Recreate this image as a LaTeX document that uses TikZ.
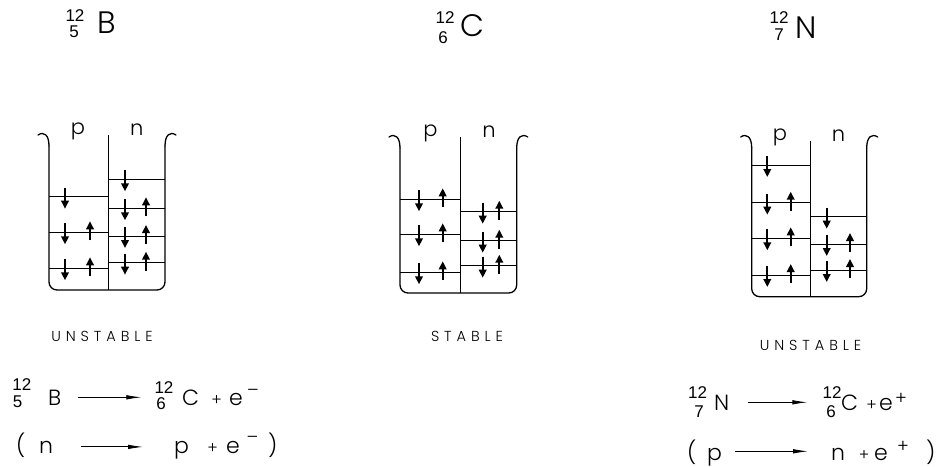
\documentclass[tikz,border=0pt]{standalone}
\usepackage{fontspec}
\IfFontExistsTF{Poppins Light}{%
  \setmainfont{Poppins Light}%
  \newfontfamily\trackedfont{Poppins Light}[LetterSpace=34]}{%
  \setmainfont{Poppins}%
  \newfontfamily\trackedfont{Poppins}[LetterSpace=34]}
\newfontfamily\numfont{Liberation Sans}
\usetikzlibrary{arrows.meta}

% beaker outline: left wall x, right wall x, rim y, bottom y, divider x, divider top
\newcommand\drawbeaker[6]{%
  \draw[wall,rounded corners=8pt] (#1,{#3+13}) -- (#1,#4) -- (#2,#4) -- (#2,{#3+13});
  \draw[wall] ({#1-11},{#3+2}) .. controls ({#1-5},{#3-2}) and (#1,{#3+2}) .. (#1,{#3+13});
  \draw[wall] (#2,{#3+13}) .. controls (#2,{#3+2}) and ({#2+5},{#3-2}) .. ({#2+11},{#3+2});
  \draw[divider] (#5,#6) -- (#5,#4);}
% spin arrows crossing a level line at height #2
\newcommand\spindn[2]{\draw[spin] (#1,{#2-9}) -- (#1,{#2+12});}
\newcommand\spinup[2]{\draw[spin] (#1,{#2+8}) -- (#1,{#2-11});}

\begin{document}
\begin{tikzpicture}[x=1pt,y=-1pt,
  wall/.style={line width=1.3pt,line cap=round},
  divider/.style={line width=1pt},
  level/.style={line width=0.9pt},
  spin/.style={line width=2pt,-{Triangle[length=8pt,width=7.5pt]}},
  hsym/.style={inner sep=0pt,anchor=base west,font=\fontsize{31}{36}\selectfont},
  hnum/.style={inner sep=0pt,anchor=base,font=\numfont\fontsize{17}{20}\selectfont},
  esym/.style={inner sep=0pt,anchor=base west,text depth=0pt,font=\fontsize{22}{26}\selectfont},
  enum/.style={inner sep=0pt,anchor=base,font=\numfont\fontsize{17}{20}\selectfont},
  eplus/.style={inner sep=0pt,anchor=base,font=\fontsize{16}{18}\selectfont},
  esup/.style={inner sep=0pt,anchor=base,font=\fontsize{18}{20}\selectfont},
  colhead/.style={inner sep=0pt,anchor=base,font=\fontsize{21}{24}\selectfont},
  verdict/.style={inner sep=0pt,anchor=base,font=\trackedfont\fontsize{14.5}{17}\selectfont},
  eqarrow/.style={line width=0.8pt,-{Latex[length=15pt,width=4.5pt]}}]
\useasboundingbox (0,0) rectangle (942,466);

% ---------- nuclide headings ----------
\node[hnum] (hB-a) at (75,21) {12};
\node[hnum] (hB-z) at (74,37.5) {5};
\node[hsym] (hB-s) at (97,33) {B};
\node[hnum] (hC-a) at (445,23) {12};
\node[hnum] (hC-z) at (443,43.5) {6};
\node[hsym] (hC-s) at (460.5,36) {C};
\node[hnum] (hN-a) at (779,23) {12};
\node[hnum] (hN-z) at (779,40.5) {7};
\node[hsym] (hN-s) at (795.5,38) {N};

% ---------- boron-12 well ----------
\drawbeaker{49}{165}{133}{290}{108.3}{135}
\node[colhead] (pB) at (78,134) {p};
\node[colhead] (nB) at (136.7,135) {n};
\foreach \L in {196.7,232.3,268.3} \draw[level] (49,\L) -- (108.3,\L);
\foreach \L in {179.3,208.3,236,262.7} \draw[level] (108.3,\L) -- (165,\L);
\spindn{65}{196.7}
\foreach \L in {232.3,268.3} {\spindn{65}{\L}\spinup{90}{\L}}
\spindn{125}{179.3}
\foreach \L in {208.3,236,262.7} {\spindn{125}{\L}\spinup{146}{\L}}
\node[verdict] (vB) at (102,341) {UNSTABLE};

% ---------- carbon-12 well ----------
\drawbeaker{400}{516.7}{135}{293}{460}{137}
\node[colhead] (pC) at (430.5,136) {p};
\node[colhead] (nC) at (489,137) {n};
\foreach \L in {199.3,234.3,272.3} \draw[level] (400,\L) -- (460,\L);
\foreach \L in {211.7,240.7,265.7} \draw[level] (460,\L) -- (516.7,\L);
\foreach \L in {199.3,234.3,272.3} {\spindn{419}{\L}\spinup{442.7}{\L}}
\foreach \L in {211.7,240.7,265.7} {\spindn{482.7}{\L}\spinup{499.3}{\L}}
\node[verdict] (vC) at (467,341.7) {STABLE};

% ---------- nitrogen-12 well ----------
\drawbeaker{751.7}{866.7}{135}{296.7}{810}{141}
\node[colhead] (pN) at (780,140.5) {p};
\node[colhead] (nN) at (838.5,141.7) {n};
\foreach \L in {165,202.7,238.3,275} \draw[level] (751.7,\L) -- (810,\L);
\foreach \L in {216.7,244,270} \draw[level] (810,\L) -- (866.7,\L);
\spindn{767.3}{165}
\foreach \L in {202.7,238.3,275} {\spindn{767.3}{\L}\spinup{790.7}{\L}}
\spindn{826.7}{216.7}
\foreach \L in {244,270} {\spindn{826.7}{\L}\spinup{850}{\L}}
\node[verdict] (vN) at (810.5,350) {UNSTABLE};

% ---------- beta-minus decay ----------
\node[enum] (e1-a) at (21.8,390.5) {12};
\node[enum] (e1-z) at (17.5,407.5) {5};
\node[esym] (e1-B) at (48,405) {B};
\node[enum] (e1-Ca) at (164,393.5) {12};
\node[enum] (e1-Cz) at (161,409.5) {6};
\node[esym] (e1-C) at (182,405) {C};
\node[eplus] (e1-plus) at (216.5,405) {+};
\node[esym] (e1-e) at (229,405) {e};
\node[esup] (e1-m) at (253,396.5) {–};
\draw[eqarrow] ([xshift=16pt]e1-B.east) -- ([xshift=-13pt]e1-B.east -| e1-Ca.west);

\node[esym] (e2-l) at (16,453) {(};
\node[esym] (e2-n) at (39,453) {n};
\node[esym] (e2-p) at (174,453) {p};
\node[eplus] (e2-plus) at (212.5,453) {+};
\node[esym] (e2-e) at (226,453) {e};
\node[esup] (e2-m) at (252.5,443) {–};
\node[esym] (e2-r) at (268,453) {)};
\draw[eqarrow] ([xshift=28pt]e2-n.east) -- ([xshift=-31pt]e2-n.east -| e2-p.west);

% ---------- beta-plus decay ----------
\node[enum] (e3-a) at (697.5,398.5) {12};
\node[enum] (e3-z) at (699,417) {7};
\node[esym] (e3-N) at (714,410) {N};
\node[enum] (e3-Ca) at (832,398.5) {12};
\node[enum] (e3-Cz) at (831,417) {6};
\node[esym] (e3-C) at (841,410) {C};
\node[eplus] (e3-plus) at (871.5,410) {+};
\node[esym] (e3-e) at (879,410) {e};
\node[esup] (e3-s) at (901,404) {+};
\draw[eqarrow] ([xshift=18pt]e3-N.east) -- ([xshift=-15pt]e3-N.east -| e3-Ca.west);

\node[esym] (e4-l) at (687,460) {(};
\node[esym] (e4-p) at (707,460) {p};
\node[esym] (e4-n) at (831,460) {n};
\node[eplus] (e4-plus) at (864,460) {+};
\node[esym] (e4-e) at (874,460) {e};
\node[esup] (e4-s) at (903,452.8) {+};
\node[esym] (e4-r) at (926,460) {)};
\draw[eqarrow] ([xshift=13pt,yshift=2.6pt]e4-p.east) -- ([xshift=-23pt,yshift=2.6pt]e4-p.east -| e4-n.west);
\end{tikzpicture}
\end{document}
